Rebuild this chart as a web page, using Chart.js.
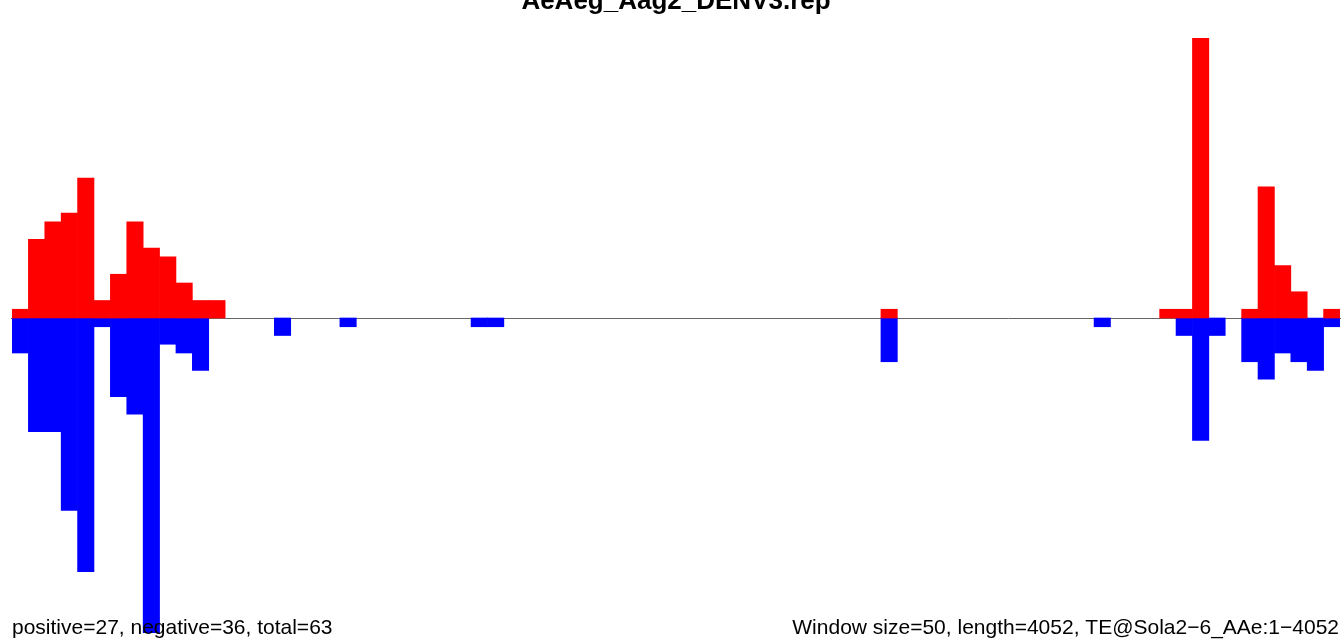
<!DOCTYPE html>
<html>
<head>
<meta charset="utf-8">
<script src="https://cdn.jsdelivr.net/npm/chart.js@4/dist/chart.umd.min.js"></script>
<style>
  html, body { margin: 0; padding: 0; background: #ffffff; }
  #c { display: block; }
</style>
</head>
<body>
<canvas id="c" width="1341" height="639"></canvas>
<script>
// ---- data (window size 50, 81 windows over length 4052) ----
const windowStarts = Array.from({length: 81}, (_, i) => i * 50 + 1);
const positiveCounts = [
  1, 9, 11, 12, 16, 2, 5, 11, 8, 7, 4, 2, 2, 0, 0, 0, 0, 0, 0, 0,
  0, 0, 0, 0, 0, 0, 0, 0, 0, 0, 0, 0, 0, 0, 0, 0, 0, 0, 0, 0,
  0, 0, 0, 0, 0, 0, 0, 0, 0, 0, 0, 0, 0, 1, 0, 0, 0, 0, 0, 0,
  0, 0, 0, 0, 0, 0, 0, 0, 0, 0, 1, 1, 32, 0, 0, 1, 15, 6, 3, 0,
  1
];
const negativeCounts = [
  4, 13, 13, 22, 29, 1, 9, 11, 36, 3, 4, 6, 0, 0, 0, 0, 2, 0, 0, 0,
  1, 0, 0, 0, 0, 0, 0, 0, 1, 1, 0, 0, 0, 0, 0, 0, 0, 0, 0, 0,
  0, 0, 0, 0, 0, 0, 0, 0, 0, 0, 0, 0, 0, 5, 0, 0, 0, 0, 0, 0,
  0, 0, 0, 0, 0, 0, 1, 0, 0, 0, 0, 2, 14, 2, 0, 5, 7, 4, 5, 6,
  1
];
const titleText = "AeAeg_Aag2_DENV3.rep";
const leftNote = "positive=27, negative=36, total=63";
const rightNote = "Window size=50, length=4052, TE@Sola2\u22126_AAe:1\u22124052";

const FONT = '"Liberation Sans", Arial, Helvetica, sans-serif';

const zeroLine = {
  id: 'zeroLine',
  beforeDatasetsDraw(chart) {
    const ctx = chart.ctx;
    const y = Math.round(chart.scales.y.getPixelForValue(0)) + 0.5;
    ctx.save();
    ctx.strokeStyle = '#666666';
    ctx.lineWidth = 1;
    ctx.beginPath();
    ctx.moveTo(11, y);
    ctx.lineTo(chart.width, y);
    ctx.stroke();
    ctx.restore();
  }
};

const texts = {
  id: 'texts',
  afterDraw(chart) {
    const ctx = chart.ctx;
    const a = chart.chartArea;
    ctx.save();
    ctx.fillStyle = '#000000';
    ctx.textBaseline = 'alphabetic';
    ctx.font = 'bold 26px ' + FONT;
    ctx.textAlign = 'center';
    ctx.fillText(titleText, (a.left + a.right) / 2, 9);
    ctx.font = '21px ' + FONT;
    ctx.textAlign = 'left';
    ctx.fillText(leftNote, 12, 634);
    ctx.textAlign = 'right';
    ctx.fillText(rightNote, 1339, 634);
    ctx.restore();
  }
};

new Chart(document.getElementById('c'), {
  type: 'bar',
  data: {
    labels: windowStarts,
    datasets: [
      {
        label: 'positive',
        data: positiveCounts.map(v => (v ? v : null)),
        backgroundColor: '#ff0000',
        borderWidth: 0,
        barPercentage: 1,
        categoryPercentage: 1
      },
      {
        label: 'negative',
        data: negativeCounts.map(v => (v ? -v : null)),
        backgroundColor: '#0000ff',
        borderWidth: 0,
        barPercentage: 1,
        categoryPercentage: 1
      }
    ]
  },
  options: {
    responsive: false,
    animation: false,
    devicePixelRatio: 1,
    layout: { padding: { left: 12, right: 1, top: 38, bottom: 6 } },
    plugins: {
      legend: { display: false },
      tooltip: { enabled: false },
      title: { display: false }
    },
    scales: {
      x: { display: false, stacked: true, grid: { display: false } },
      y: { display: false, stacked: true, min: -36, max: 32, grid: { display: false } }
    }
  },
  plugins: [zeroLine, texts]
});
</script>
</body>
</html>
